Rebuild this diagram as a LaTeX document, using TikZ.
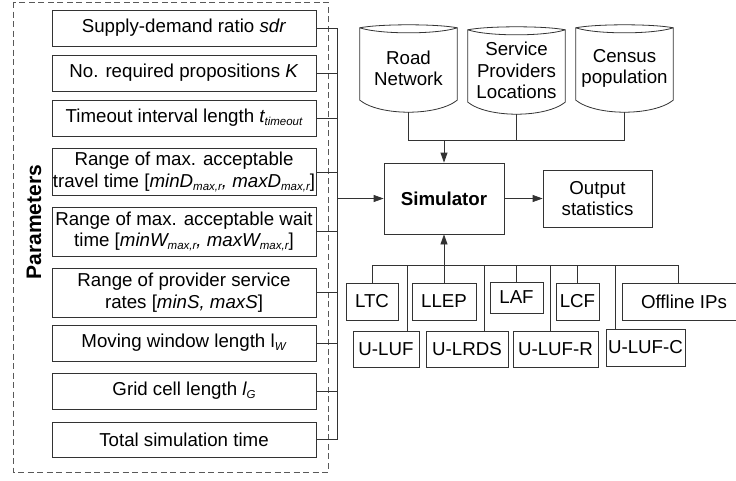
\documentclass[tikz,border=0pt]{standalone}
\usepackage{fontspec}
\setmainfont{Liberation Sans}
\usetikzlibrary{arrows.meta,calc}
\newcommand{\fs}{\fontsize{18.7}{21.5}\selectfont}
\newcommand{\lsub}[1]{\raisebox{-0.28ex}{\fontsize{11.5}{12}\selectfont #1}}
\begin{document}
\begin{tikzpicture}[x=1pt,y=-1pt,
  linecol/.style={draw=black!80},
  line/.style={linecol, line width=0.8pt},
  box/.style={line, rectangle, inner sep=0pt, align=center, font=\fs},
  pbox/.style={box, minimum width=264pt},
  abox/.style={box, minimum height=36pt},
  dbtext/.style={rectangle, inner sep=0pt, align=center, font=\fs, minimum width=97pt, minimum height=87pt},
  arr/.style={line, -{Triangle[length=10pt,width=7pt]}},
  dashbox/.style={draw=black!65, line width=0.8pt, dash pattern=on 6pt off 3.5pt}
]
\useasboundingbox (0,0) rectangle (736,480);

% dashed frame
\draw[dashbox] (13,2) rectangle (328,472);
\node[rotate=90, font=\bfseries\fontsize{21}{24}\selectfont] (plabel) at (34,222) {Parameters};

% parameter boxes
\node[pbox, minimum height=36pt] (p1) at (184,28) {Supply-demand ratio \textit{sdr}};
\node[pbox, minimum height=36pt] (p2) at (184,73) {No. required propositions \textit{K}};
\node[pbox, minimum height=36pt] (p3) at (184,118) {Timeout interval length \textit{t\lsub{timeout}}};
\node[pbox, minimum height=47pt] (p4) at (184,172) {Range of max. acceptable\\travel time [\textit{minD\lsub{max,r}, maxD\lsub{max,r}}]};
\node[pbox, minimum height=49pt] (p5) at (184,231.5) {Range of max. acceptable wait\\time [\textit{minW\lsub{max,r}, maxW\lsub{max,r}}]};
\node[pbox, minimum height=49pt] (p6) at (184,292.5) {Range of provider service\\rates [\textit{minS, maxS}]};
\node[pbox, minimum height=36pt] (p7) at (184,343) {Moving window length l\lsub{\textit{W}}};
\node[pbox, minimum height=36pt] (p8) at (184,391) {Grid cell length \textit{l\lsub{G}}};
\node[pbox, minimum height=35pt] (p9) at (184,439.5) {Total simulation time};

\coordinate (pbus) at (337,198.5);
\foreach \n in {p1,p2,p3,p4,p5,p6,p7,p8,p9}{
  \draw[line] (\n.east) -- (\n.east -| pbus);
}
\draw[line] (p1.east -| pbus) -- (p9.east -| pbus);

% simulator and output
\node[box, minimum width=120pt, minimum height=71pt, font=\fs\bfseries] (sim) at (444,198.5) {Simulator};
\node[box, minimum width=109pt, minimum height=57pt] (out) at (597.5,198.5) {Output\\statistics};
\draw[arr] (pbus) -- (sim.west);
\draw[arr] (sim.east) -- (out.west);

% databases
\node[dbtext] (db1) at (408.5,68.5) {Road\\Network};
\node[dbtext] (db2) at (516.5,70.5) {Service\\Providers\\Locations};
\node[dbtext] (db3) at (624.5,68.5) {Census\\population};
\foreach \d in {db1,db2,db3}{
  \draw[line] ($(\d.north west)+(0,3)$)
     .. controls ($(\d.north west)+(20,-1)$) and ($(\d.north east)+(-20,-1)$) .. ($(\d.north east)+(0,3)$)
     -- ($(\d.south east)+(0,-12)$)
     .. controls ($(\d.south east)+(-20,4)$) and ($(\d.south west)+(20,4)$) .. ($(\d.south west)+(0,-12)$)
     -- cycle;
  \draw[line] ($(\d.north west)+(0,3)$)
     .. controls ($(\d.north west)+(20,9.7)$) and ($(\d.north east)+(-20,9.7)$) .. ($(\d.north east)+(0,3)$);
}
\coordinate (dbus) at (444,140);
\draw[line] (db1.south) -- (db1.south |- dbus) -- (db3.south |- dbus) -- (db3.south);
\draw[line] (db2.south) -- (db2.south |- dbus);
\draw[arr] (dbus) -- (sim.north);

% algorithms
\node[abox, minimum width=52pt, minimum height=37pt] (ltc) at (372,301.5) {LTC};
\node[abox, minimum width=64pt, minimum height=37pt] (llep) at (444,301.5) {LLEP};
\node[abox, minimum width=53pt, minimum height=31pt] (laf) at (516.5,297.5) {LAF};
\node[abox, minimum width=43pt, minimum height=37pt] (lcf) at (577.5,301.5) {LCF};
\node[abox, minimum width=124pt, minimum height=37pt] (offl) at (684,301.5) {Offline IPs};
\node[abox, minimum width=66pt] (uluf) at (386,349) {U-LUF};
\node[abox, minimum width=82pt] (ulrds) at (467,349) {U-LRDS};
\node[abox, minimum width=85pt] (ulufr) at (555.5,349) {U-LUF-R};
\node[abox, minimum width=79pt, minimum height=37pt] (ulufc) at (645.5,347.5) {U-LUF-C};

\coordinate (abus) at (444,265);
\draw[line] (ltc.north |- abus) -- ($(offl.north |- abus)+(-6,0)$);
\draw[line] (ltc.north) -- (ltc.north |- abus);
\draw[line] (laf.north) -- (laf.north |- abus);
\draw[line] (lcf.north) -- (lcf.north |- abus);
\draw[line] ($(offl.north)+(-6,0)$) -- ($(offl.north |- abus)+(-6,0)$);
\draw[line] ($(uluf.north)+(21,0)$) -- ($(uluf.north |- abus)+(21,0)$);
\draw[line] ($(ulrds.north)+(17,0)$) -- ($(ulrds.north |- abus)+(17,0)$);
\draw[line] ($(ulufr.north)+(-5.5,0)$) -- ($(ulufr.north |- abus)+(-5.5,0)$);
\draw[line] ($(ulufc.north)+(-30.5,0)$) -- ($(ulufc.north |- abus)+(-30.5,0)$);
\draw[arr] (llep.north) -- (sim.south);
\end{tikzpicture}
\end{document}
